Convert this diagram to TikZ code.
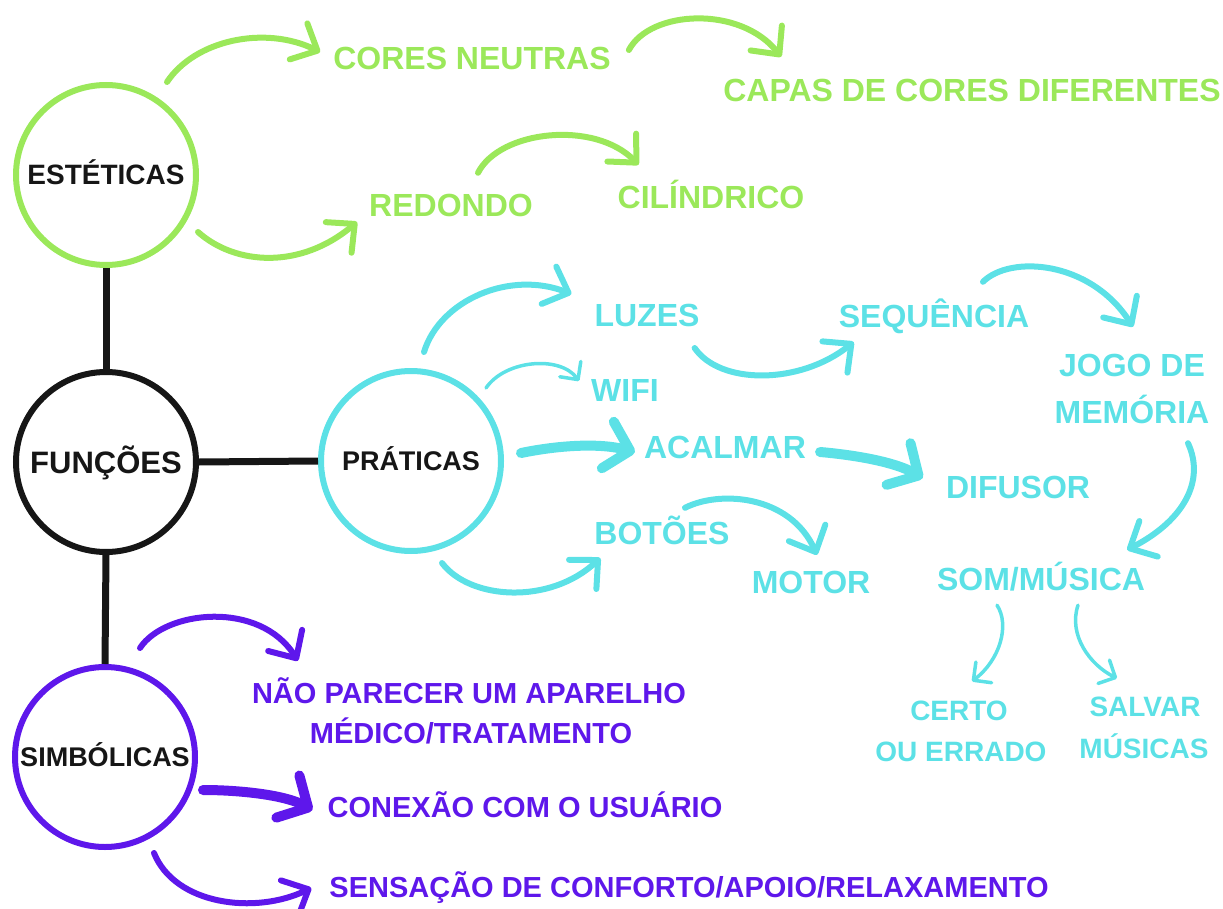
\documentclass[tikz,border=0pt]{standalone}
\usepackage{fontspec}
\setmainfont{Liberation Sans}
\usetikzlibrary{arrows.meta}
\definecolor{vgreen}{RGB}{155,232,90}
\definecolor{vcyan}{RGB}{92,225,230}
\definecolor{vpurple}{RGB}{94,23,235}
\definecolor{vblack}{RGB}{22,22,22}
\begin{document}
\begin{tikzpicture}[x=1pt,y=-1pt,
  circ/.style={circle,draw,line width=6pt,minimum size=180pt,inner sep=0pt,fill=white,text=vblack},
  link/.style={line width=7pt,draw=vblack},
  lbl/.style={inner sep=0pt,text depth=0pt},
  gtxt/.style={lbl,text=vgreen,font=\bfseries\fontsize{32}{38}\selectfont,text height=23pt},
  ctxt/.style={lbl,text=vcyan,font=\bfseries\fontsize{32}{38}\selectfont,text height=23pt},
  cstxt/.style={lbl,text=vcyan,font=\bfseries\fontsize{28}{34}\selectfont,text height=20pt},
  ptxt/.style={lbl,text=vpurple,font=\bfseries\fontsize{29}{35}\selectfont,text height=21pt},
  arrbase/.style={line cap=round},
  garr/.style={arrbase,draw=vgreen,line width=6pt,-{Straight Barb[length=21pt,width=40pt,round]}},
  carr/.style={arrbase,draw=vcyan,line width=6pt,-{Straight Barb[length=21pt,width=40pt,round]}},
  cthin/.style={arrbase,draw=vcyan,line width=3.5pt,-{Straight Barb[length=13pt,width=26pt,round]}},
  cthick/.style={arrbase,draw=vcyan,line width=10pt,-{Straight Barb[length=23pt,width=48pt,round]}},
  parr/.style={arrbase,draw=vpurple,line width=6pt,-{Straight Barb[length=21pt,width=40pt,round]}},
  pthick/.style={arrbase,draw=vpurple,line width=10pt,-{Straight Barb[length=23pt,width=48pt,round]}}
]
\useasboundingbox (0,0) rectangle (1223,909);

% circles
\node[circ,draw=vgreen,font=\bfseries\fontsize{28}{30}\selectfont,text height=20pt,text depth=0pt] (est) at (106,175) {ESTÉTICAS};
\node[circ,draw=vblack,font=\bfseries\fontsize{31}{33}\selectfont,text height=22pt,text depth=0pt] (fun) at (106,462) {FUNÇÕES};
\node[circ,draw=vcyan,font=\bfseries\fontsize{27}{30}\selectfont,text height=19pt,text depth=0pt] (prat) at (411,461) {PRÁTICAS};
\node[circ,draw=vpurple,font=\bfseries\fontsize{27}{30}\selectfont,text height=19pt,text depth=0pt] (simb) at (105,757) {SIMBÓLICAS};

% black links
\draw[link] (est.south) -- (fun.north);
\draw[link] (fun.east) -- (prat.west);
\draw[link] (fun.south) -- (simb.north);

% green labels
\node[gtxt] (cores) at (472,58) {CORES NEUTRAS};
\node[gtxt] (capas) at (972,90) {CAPAS DE CORES DIFERENTES};
\node[gtxt] (redondo) at (451,205) {REDONDO};
\node[gtxt] (cilin) at (711,197) {CILÍNDRICO};

% cyan labels
\node[ctxt] (luzes) at (647,315) {LUZES};
\node[ctxt] (seq) at (934,316) {SEQUÊNCIA};
\node[ctxt] (jogo1) at (1132,365) {JOGO DE};
\node[ctxt] (jogo2) at (1132,412) {MEMÓRIA};
\node[ctxt] (wifi) at (625,390) {WIFI};
\node[ctxt] (acalmar) at (725,447) {ACALMAR};
\node[ctxt] (difusor) at (1018,487) {DIFUSOR};
\node[ctxt] (botoes) at (662,533) {BOTÕES};
\node[ctxt] (motor) at (811,582) {MOTOR};
\node[ctxt] (som) at (1041,579) {SOM/MÚSICA};
\node[cstxt] (certo1) at (959,710) {CERTO};
\node[cstxt] (certo2) at (961,751) {OU ERRADO};
\node[cstxt] (salvar1) at (1145,706) {SALVAR};
\node[cstxt] (salvar2) at (1144,748) {MÚSICAS};

% purple labels
\node[ptxt] (naop1) at (469,693) {NÃO PARECER UM APARELHO};
\node[ptxt] (naop2) at (471,733) {MÉDICO/TRATAMENTO};
\node[ptxt] (conexao) at (525,807) {CONEXÃO COM O USUÁRIO};
\node[ptxt] (sensacao) at (689,887) {SENSAÇÃO DE CONFORTO/APOIO/RELAXAMENTO};

% green arrows
\draw[garr] ([shift={(61,-93)}]est.center) .. controls (195,40) and (265,25) .. ([shift={(-13,-6)}]cores.west);
\draw[garr] ([shift={(92,57)}]est.center) .. controls (235,265) and (300,270) .. ([shift={(-12,17)}]redondo.west);
\draw[garr] ([shift={(18,-8)}]cores.east) .. controls (650,10) and (740,5) .. ([shift={(58,-21.5)}]capas.north west);
\draw[garr] ([shift={(27,-20.5)}]redondo.north) .. controls (500,130) and (595,120) .. ([shift={(21,-20.5)}]cilin.north west);

% cyan arrows
\draw[carr] ([shift={(13,-109)}]prat.center) .. controls (440,300) and (510,270) .. ([shift={(-23,-21)}]luzes.west);
\draw[cthin] ([shift={(75,-73)}]prat.center) .. controls (505,360) and (560,355) .. ([shift={(-12,-9)}]wifi.west);
\draw[cthick] ([shift={(110,-8)}]prat.center) .. controls (560,445) and (600,443) .. ([shift={(-9,5)}]acalmar.west);
\draw[carr] ([shift={(31,102)}]prat.center) .. controls (470,600) and (550,605) .. ([shift={(6,25)}]botoes.west);
\draw[carr] ([shift={(-5,33)}]luzes.east) .. controls (720,385) and (800,385) .. ([shift={(15,26)}]seq.west);
\draw[carr] ([shift={(49,-22.5)}]seq.north) .. controls (1010,255) and (1090,260) .. ([shift={(1,-26.5)}]jogo1.north);
\draw[cthick] ([shift={(14,5)}]acalmar.east) .. controls (855,455) and (895,462) .. ([shift={(-23,-9)}]difusor.west);
\draw[carr] ([shift={(56,19.5)}]jogo2.south) .. controls (1205,480) and (1185,520) .. ([shift={(-18,-17.5)}]som.north east);
\draw[carr] ([shift={(23,-13.5)}]botoes.north) .. controls (720,490) and (790,495) .. ([shift={(6,-15.5)}]motor.north);
\draw[cthin] ([shift={(-44,14.5)}]som.south) .. controls (1010,625) and (1000,660) .. ([shift={(13,-18.5)}]certo1.north);
\draw[cthin] ([shift={(37,14.5)}]som.south) .. controls (1068,635) and (1090,665) .. ([shift={(-28,-17.5)}]salvar1.north);

% purple arrows
\draw[parr] ([shift={(35,-109)}]simb.center) .. controls (165,610) and (260,600) .. ([shift={(46,-21.5)}]naop1.north west);
\draw[pthick] ([shift={(98,33)}]simb.center) .. controls (240,790) and (285,795) .. ([shift={(-15,3)}]conexao.west);
\draw[parr] ([shift={(49,96)}]simb.center) .. controls (175,905) and (255,915) .. ([shift={(-18,1)}]sensacao.west);
\end{tikzpicture}
\end{document}
